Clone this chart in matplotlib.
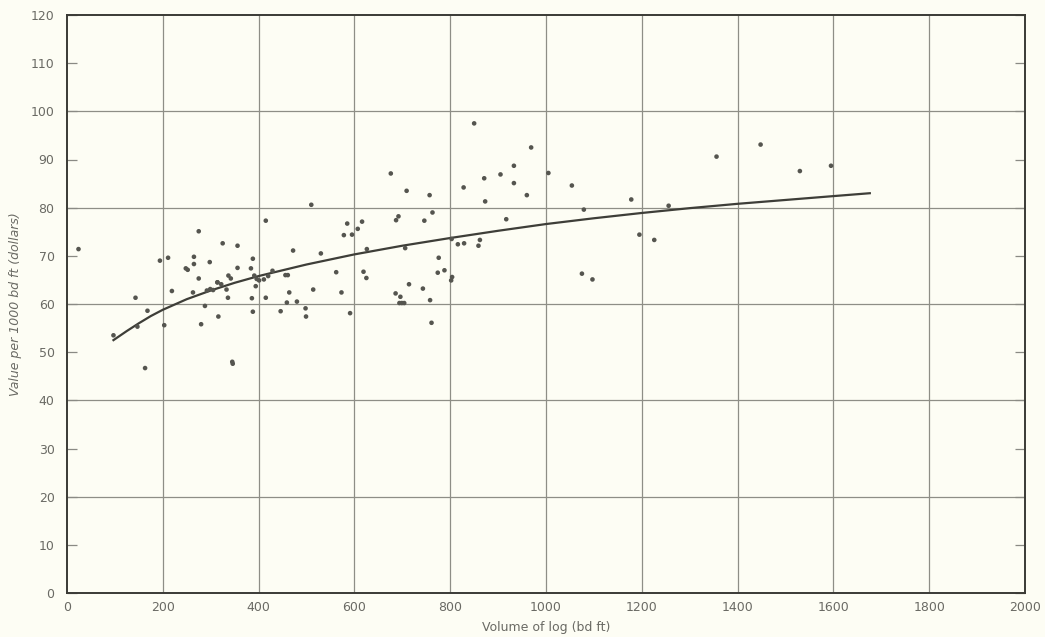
import numpy as np
import matplotlib
matplotlib.use("Agg")
import matplotlib.pyplot as plt
from matplotlib.ticker import MultipleLocator

# observed logs: volume (bd ft) and value per 1000 bd ft (dollars)
vol = [24, 97, 143, 147, 168, 163, 194, 211, 203, 219, 275, 248, 252, 265, 265,
       298, 275, 263, 288, 280, 316, 314, 292, 305, 510, 415, 325, 356, 388, 356,
       384, 337, 342, 314, 322, 299, 333, 336, 345, 346, 391, 396, 401, 394, 386,
       388, 415, 411, 420, 429, 472, 456, 461, 464, 446, 459, 480, 498, 499, 514,
       530, 562, 573, 591, 578, 595, 585, 607, 676, 709, 757, 871, 828, 873, 763,
       746, 687, 692, 616, 626, 706, 803, 816, 829, 859, 862, 776, 619, 625, 774,
       788, 804, 802, 714, 743, 686, 696, 694, 699, 704, 758, 761, 969, 933, 905,
       933, 960, 1005, 1054, 1178, 1079, 917, 1195, 1075, 1097, 1356, 1530, 1256,
       1226, 1448, 1595, 850]
value = [71.4, 53.5, 61.3, 55.3, 58.6, 46.7, 69.0, 69.6, 55.6, 62.7, 75.1, 67.4,
         67.1, 69.8, 68.3, 68.7, 65.3, 62.4, 59.6, 55.8, 57.4, 64.5, 62.8, 62.9,
         80.6, 77.3, 72.6, 72.1, 69.4, 67.5, 67.4, 65.9, 65.3, 64.5, 64.1, 63.1,
         63.0, 61.3, 48.0, 47.6, 65.9, 65.2, 64.9, 63.7, 61.2, 58.4, 61.3, 65.1,
         65.8, 66.9, 71.1, 66.0, 66.0, 62.4, 58.5, 60.3, 60.5, 59.1, 57.4, 63.0,
         70.5, 66.6, 62.4, 58.1, 74.3, 74.4, 76.7, 75.6, 87.1, 83.5, 82.6, 86.1,
         84.2, 81.3, 79.0, 77.3, 77.4, 78.2, 77.1, 71.4, 71.6, 73.5, 72.4, 72.6,
         72.1, 73.3, 69.6, 66.7, 65.4, 66.5, 67.0, 65.6, 64.9, 64.1, 63.2, 62.2,
         61.5, 60.2, 60.2, 60.2, 60.8, 56.1, 92.5, 88.7, 86.9, 85.1, 82.6, 87.2,
         84.6, 81.7, 79.6, 77.6, 74.4, 66.3, 65.1, 90.6, 87.6, 80.4, 73.3, 93.1,
         88.7, 97.5]

# fitted curve
curve_x = [97, 125, 150, 175, 200, 250, 300, 350, 400, 500, 600, 700, 800, 900,
           1000, 1100, 1200, 1300, 1400, 1500, 1600, 1676]
curve_y = [52.5, 54.4, 56.0, 57.5, 58.8, 61.0, 62.8, 64.4, 65.8, 68.2, 70.3,
           72.1, 73.7, 75.2, 76.6, 77.8, 78.9, 79.9, 80.8, 81.6, 82.4, 83.0]

bg = "#fdfdf4"
txt = "#6a6a64"

fig = plt.figure(figsize=(10.45, 6.37), dpi=100, facecolor=bg)
ax = fig.add_axes([67/1045, 44/637, 958/1045, 578/637], facecolor=bg)

ax.plot(curve_x, curve_y, color="#3e3e38", lw=1.6, zorder=3)
ax.scatter(vol, value, s=11, color="#55554f", edgecolors="none", zorder=4)

ax.set_xlim(0, 2000)
ax.set_ylim(0, 120)
ax.xaxis.set_major_locator(MultipleLocator(200))
ax.yaxis.set_major_locator(MultipleLocator(10))

# gridlines: every 200 on x, every 20 on y
for gx in range(200, 2000, 200):
    ax.axvline(gx, color="#8e8e86", lw=0.9, zorder=1)
for gy in range(20, 120, 20):
    ax.axhline(gy, color="#8e8e86", lw=0.9, zorder=1)

ax.tick_params(axis="x", length=0, pad=6, labelsize=9, labelcolor=txt)
ax.tick_params(axis="y", direction="in", length=7, width=0.9, color="#8a8a84",
               pad=9, labelsize=9, labelcolor=txt, right=True)

for s in ax.spines.values():
    s.set_color("#3a3a35")
    s.set_linewidth(1.4)

ax.set_xlabel("Volume of log (bd ft)", color=txt, fontsize=9, labelpad=5)
ax.set_ylabel("Value per 1000 bd ft (dollars)", color=txt, fontsize=9,
              style="italic", labelpad=6)

fig.savefig("out.png", dpi=100, facecolor=bg)
